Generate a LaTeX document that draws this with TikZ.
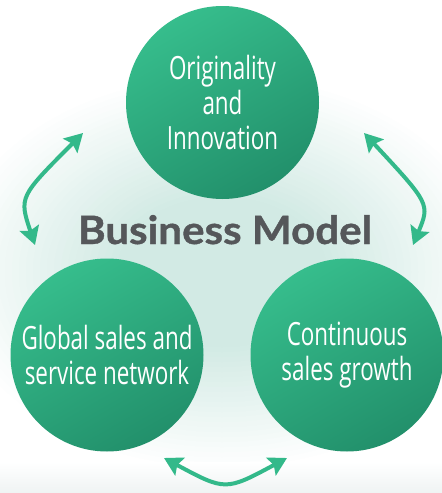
\documentclass[tikz,border=0pt]{standalone}
\usepackage{fontspec}
\setmainfont{Open Sans}
\newfontfamily\circfont[FakeStretch=0.7]{Open Sans}
\newfontfamily\titlefont[FakeStretch=1.08,FakeBold=1]{Lato}
\usetikzlibrary{arrows.meta}
\definecolor{mint}{HTML}{D2EAE4}
\definecolor{cgreenA}{HTML}{36BD8C}
\definecolor{cgreenB}{HTML}{22906B}
\definecolor{arrowgreen}{HTML}{33B98A}
\definecolor{titlegray}{HTML}{55575A}
\definecolor{bandgray}{HTML}{EFF3F3}
\begin{document}
\begin{tikzpicture}[x=1pt,y=-1pt,
  bubble/.style={circle, minimum size=193pt, inner sep=0pt, align=center,
    text=white, font=\circfont\fontsize{32}{35}\selectfont,
    top color=cgreenA, bottom color=cgreenB, shading angle=30},
  cyclearrow/.style={draw=arrowgreen, line width=4pt,
    {Stealth[length=18pt,width=20pt,inset=3pt]}-{Stealth[length=18pt,width=20pt,inset=3pt]}},
  titletext/.style={font=\titlefont\bfseries\fontsize{39}{42}\selectfont, text=titlegray}]
\useasboundingbox (0,0) rectangle (442,493);
\fill[white] (0,0) rectangle (442,493);
% background glow
\begin{scope}
\clip (0,0) rectangle (442,493);
\foreach \i in {40,39,...,1}{
  \pgfmathsetmacro{\f}{\i/40}
  \pgfmathsetmacro{\p}{min(100,(1-\f)*100/0.62)}
  \fill[mint!\p!white] (222,272) ellipse ({280*\f} and {200*\f});
}
\shade[top color=white, bottom color=bandgray] (0,462) rectangle (442,493);
\end{scope}
% circles
\node[bubble] (top) at (222.5,102.5) {Originality\\and\\Innovation};
\node[bubble] (left) at (107,355) {Global sales and\\service network};
\node[bubble] (right) at (347,355) {Continuous\\sales growth};
\node[titletext, anchor=base] (title) at (225,244) {Business Model};
% arrow end points
\coordinate (lA) at (35,245);
\coordinate (lB) at (83,133);
\coordinate (rA) at (364,133);
\coordinate (rB) at (413,245);
\coordinate (bA) at (164,458);
\coordinate (bB) at (287,458);
\draw[cyclearrow] (lA) .. controls (19,197) .. (lB);
\draw[cyclearrow] (rA) .. controls (430,204) .. (rB);
\draw[cyclearrow] (bA) .. controls (225.5,491) .. (bB);
\end{tikzpicture}
\end{document}
